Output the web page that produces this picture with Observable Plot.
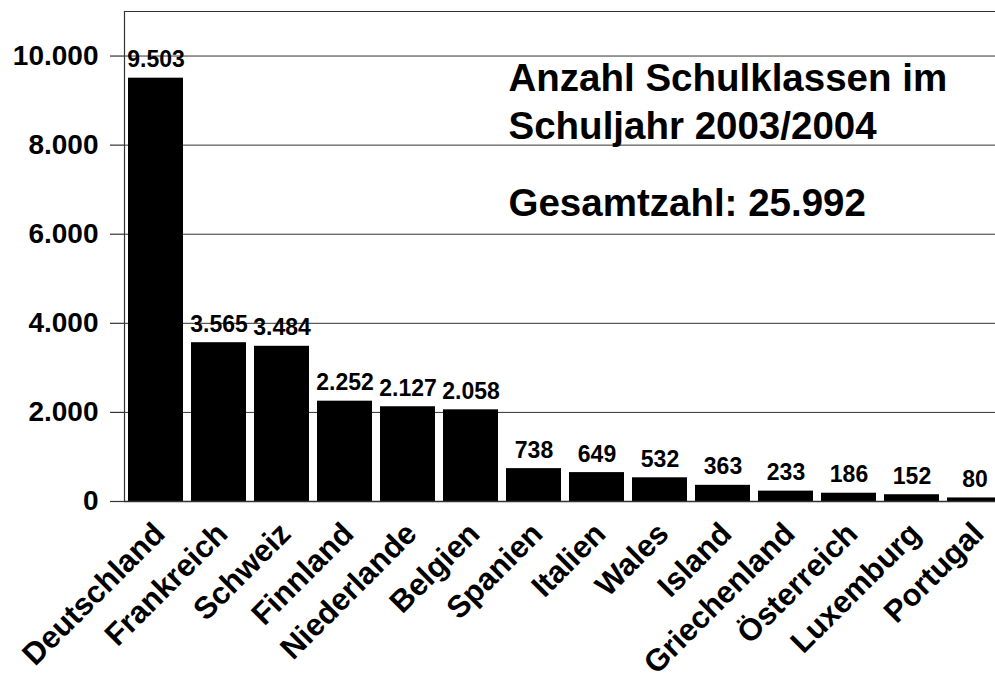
<!DOCTYPE html>
<html>
<head>
<meta charset="utf-8">
<script src="https://cdn.jsdelivr.net/npm/d3@7"></script>
<script src="https://cdn.jsdelivr.net/npm/@observablehq/plot@0.6"></script>
<style>
  html, body { margin: 0; padding: 0; background: #fff; overflow: hidden; }
  #chart svg { display: block; overflow: hidden; }
</style>
</head>
<body>
<div id="chart"></div>
<script>
const countries = ["Deutschland","Frankreich","Schweiz","Finnland","Niederlande","Belgien","Spanien","Italien","Wales","Island","Griechenland","Österreich","Luxemburg","Portugal"];
const classes = [9503, 3565, 3484, 2252, 2127, 2058, 738, 649, 532, 363, 233, 186, 152, 80];
const yTicks = [0, 2000, 4000, 6000, 8000, 10000];
const titleLine1 = "Anzahl Schulklassen im";
const titleLine2 = "Schuljahr 2003/2004";
const totalText = "Gesamtzahl: 25.992";

const de = d3.formatLocale({decimal: ",", thousands: ".", grouping: [3], currency: ["", " €"]});
const fmt = de.format(",d");
const data = countries.map((c, i) => ({country: c, value: classes[i]}));
const font = "Liberation Sans, Arial, Helvetica, sans-serif";

const titleStyle = {frameAnchor: "top-left", textAnchor: "start", lineAnchor: "bottom", dx: 384, fontSize: 38.5, fontWeight: "bold", fill: "#000"};

const chart = Plot.plot({
  width: 995,
  height: 673,
  marginLeft: 124,
  marginRight: -11,
  marginTop: 11,
  marginBottom: 172,
  style: {fontFamily: font, background: "#fff", color: "#000"},
  x: {domain: countries, paddingInner: 0.127, paddingOuter: 0.0635, axis: null},
  y: {domain: [0, 11000], axis: null},
  marks: [
    Plot.gridY(yTicks.filter(d => d > 0), {stroke: "#333", strokeOpacity: 1, strokeWidth: 1}),
    Plot.barY(data, {x: "country", y: "value", fill: "#000"}),
    Plot.ruleY([0], {stroke: "#333", strokeWidth: 1.5}),
    Plot.frame({anchor: "left", stroke: "#333", strokeWidth: 1.2}),
    Plot.frame({anchor: "top", stroke: "#333", strokeWidth: 1.2}),
    Plot.axisY({ticks: yTicks, tickFormat: fmt, label: null, tickSize: 14, tickPadding: 12, stroke: "#333", strokeWidth: 1.2, fontSize: 28, fontWeight: "bold", fill: "#000"}),
    Plot.text(data, {x: "country", y: "value", text: d => fmt(d.value), lineAnchor: "bottom", dy: -11, fontSize: 23, fontWeight: "bold", fill: "#000"}),
    Plot.text(countries, {x: d => d, frameAnchor: "bottom", text: d => d, rotate: -45, textAnchor: "end", lineAnchor: "middle", dx: 3.5, dy: 27, fontSize: 31, fontWeight: "bold", fill: "#000"}),
    Plot.text([titleLine1], {...titleStyle, text: d => d, dy: 79}),
    Plot.text([titleLine2], {...titleStyle, text: d => d, dy: 127}),
    Plot.text([totalText], {...titleStyle, text: d => d, dy: 204})
  ]
});
document.getElementById("chart").appendChild(chart);
</script>
</body>
</html>
